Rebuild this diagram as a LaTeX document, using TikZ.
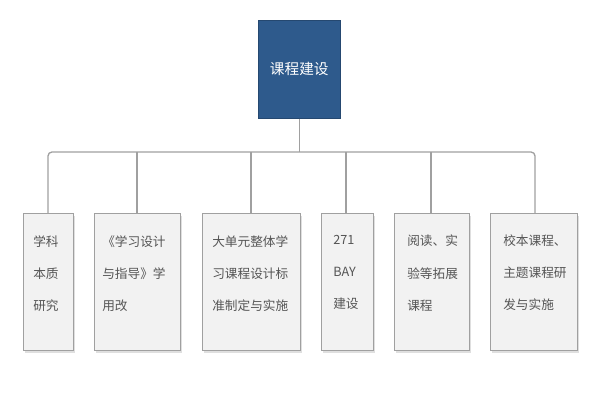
\documentclass[tikz,border=0pt]{standalone}
\usepackage{fontspec}
\newfontfamily\cjk{Noto Sans CJK SC}
\usetikzlibrary{shadows}
\definecolor{rootblue}{HTML}{2E5A8C}
\definecolor{boxgray}{HTML}{F2F2F2}
\definecolor{linegray}{HTML}{A0A0A0}
\definecolor{txtgray}{HTML}{555555}
\begin{document}
\begin{tikzpicture}[x=0.75pt,y=-0.75pt,
  leaf/.style={draw=linegray,fill=boxgray,line width=1pt,drop shadow={shadow xshift=1pt,shadow yshift=-1.5pt,fill=black!25},
    anchor=north west,inner sep=0pt},
  leaftext/.style={anchor=north west,inner sep=0pt,align=left,font=\cjk\fontsize{9.5}{24}\selectfont,text=txtgray},
  conn/.style={draw=linegray,line width=1pt,rounded corners=3pt}]
\useasboundingbox (0,0) rectangle (600,400);
\node[fill=rootblue,draw=rootblue!80!black,minimum width=61.5pt,minimum height=73.5pt,anchor=north west,inner sep=0pt,
  text=white,font=\cjk\fontsize{11}{14}\selectfont] (root) at (258,20) {课程建设};
\newcommand{\leafnode}[5]{%
  \node[leaf,minimum width=#3*0.75pt,minimum height=137*0.75pt] (#1) at (#2,213) {};
  \node[leaftext] (#1t) at (#2+#4,235) {#5};}
\leafnode{c1}{23}{50}{10}{学科\\本质\\研究}
\leafnode{c2}{94}{86}{8}{《学习设计\\与指导》学\\用改}
\leafnode{c3}{202}{98}{10}{大单元整体学\\习课程设计标\\准制定与实施}
\leafnode{c4}{321}{52}{12}{271\\BAY\\建设}
\leafnode{c5}{394}{75}{13}{阅读、实\\验等拓展\\课程}
\leafnode{c6}{490}{87}{13}{校本课程、\\主题课程研\\发与实施}
\coordinate (bar) at (root.south |- 0,152);
\draw[conn] (root.south) -- (bar);
\coordinate (b1) at (48,152); \coordinate (b2) at (137,152); \coordinate (b3) at (251,152);
\coordinate (b4) at (346,152); \coordinate (b5) at (431,152); \coordinate (b6) at (535,152);
\draw[conn] (b1 |- c1.north) -- (b1) -- (b6) -- (b6 |- c6.north);
\draw[conn] (b2 |- c2.north) -- (b2);
\draw[conn] (b3 |- c3.north) -- (b3);
\draw[conn] (b4 |- c4.north) -- (b4);
\draw[conn] (b5 |- c5.north) -- (b5);
\end{tikzpicture}
\end{document}
